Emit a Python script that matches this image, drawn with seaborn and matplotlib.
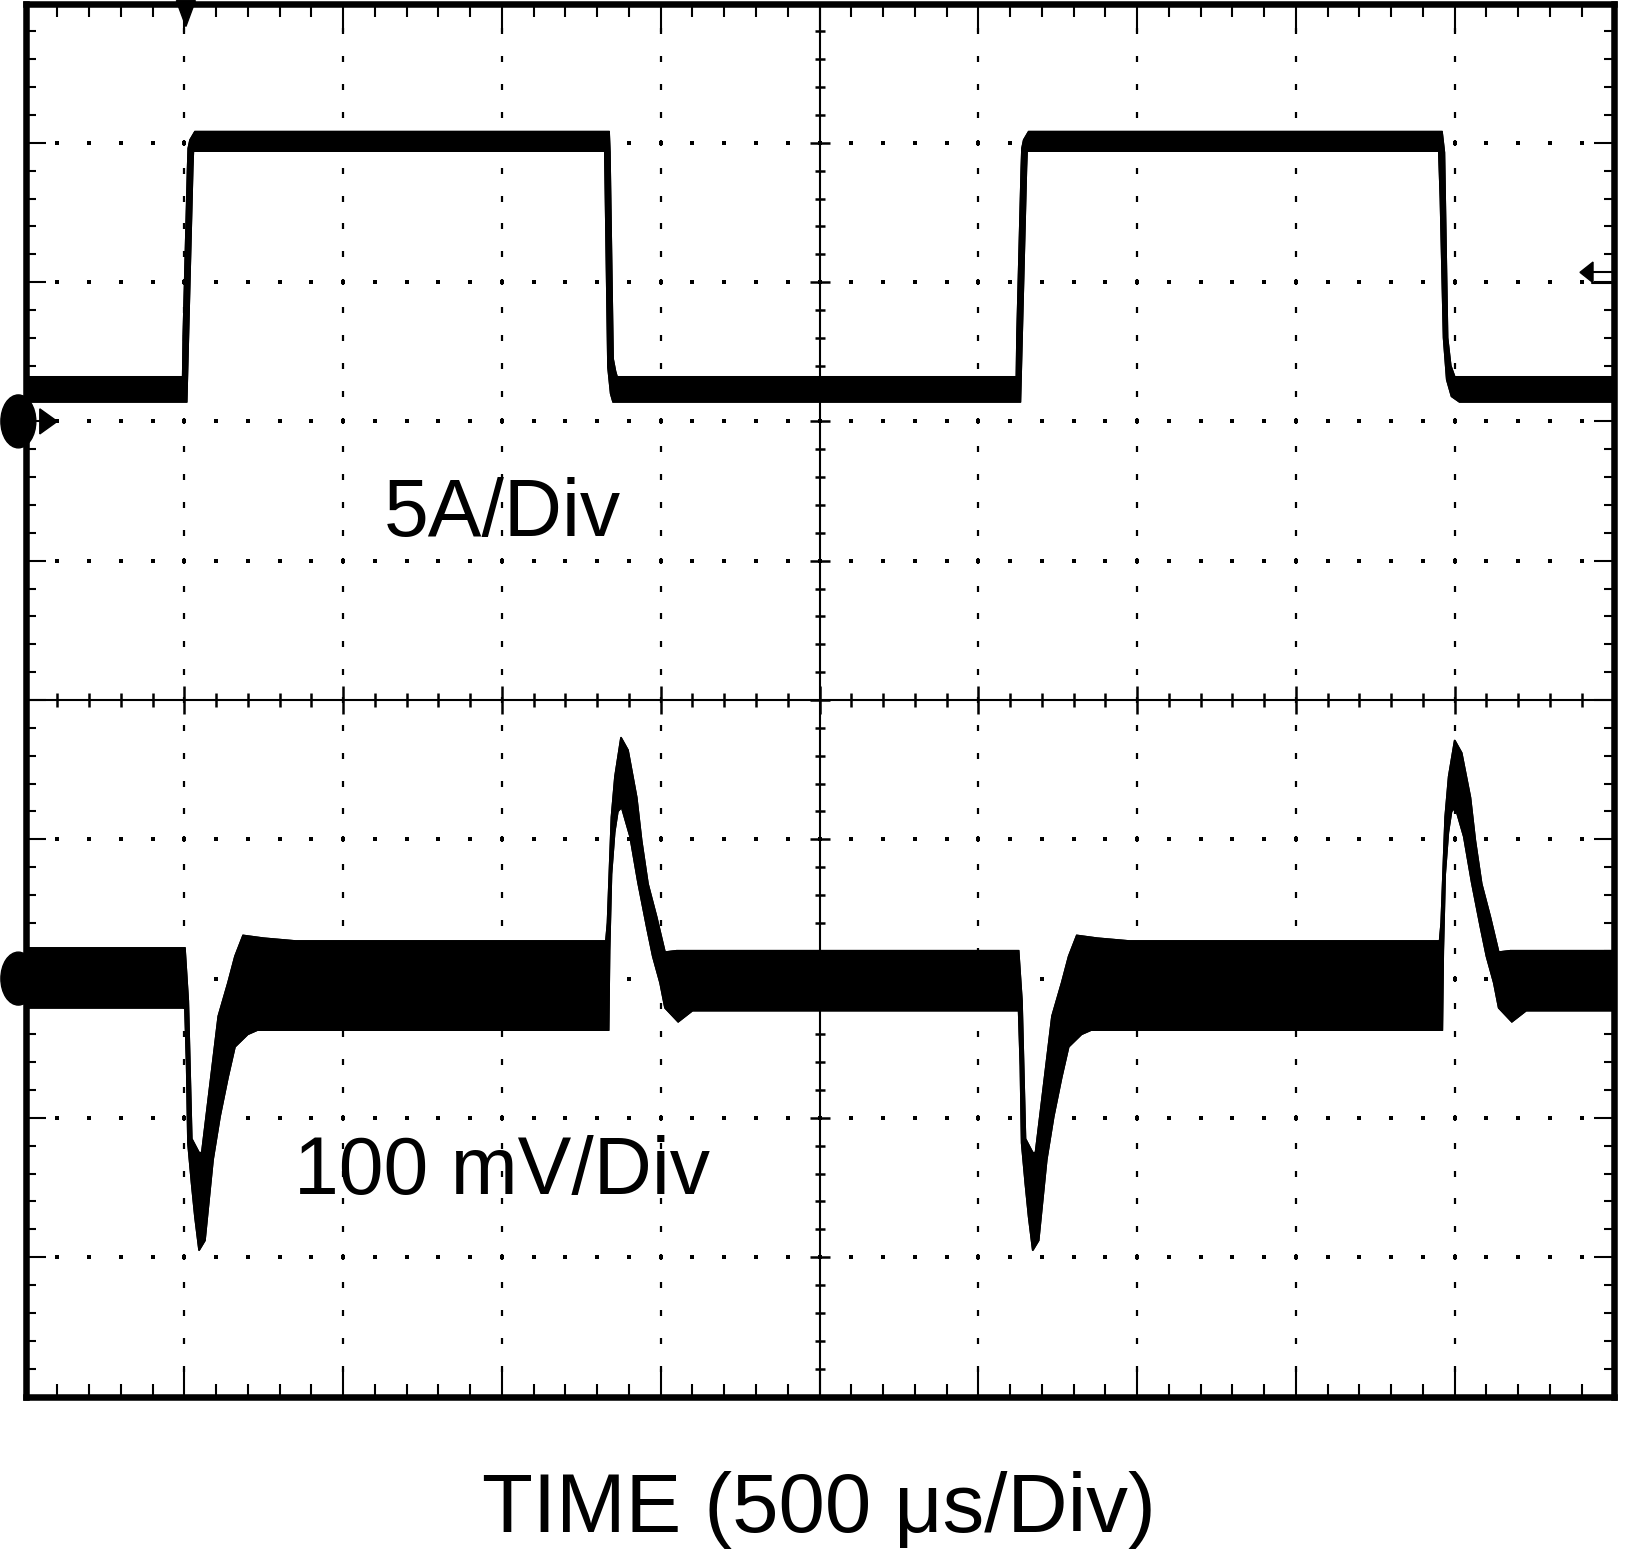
import numpy as np
import matplotlib
matplotlib.use('Agg')
import matplotlib.pyplot as plt
from matplotlib.patches import Ellipse, Polygon
from matplotlib.ticker import MultipleLocator
import seaborn as sns

# Pantalla de osciloscopio: 10 x 10 divisiones, unidades en divisiones
# Canal 1 (corriente, 5 A/div) - envolvente superior / inferior de la traza
cur_up_t = [0.0, 0.990, 0.994, 1.021, 1.025, 1.036, 1.067, 3.675, 3.680, 3.700, 3.715, 3.725,
            6.240, 6.244, 6.271, 6.275, 6.286, 6.317, 8.920, 8.935, 8.955, 8.975, 9.000, 10.0]
cur_up_y = [7.32, 7.32, 7.63, 8.82, 8.96, 9.02, 9.08, 9.08, 8.93, 7.45, 7.36, 7.32,
            7.32, 7.63, 8.82, 8.96, 9.02, 9.08, 9.08, 8.93, 7.60, 7.40, 7.32, 7.32]
cur_lo_t = [0.0, 1.015, 1.053, 1.057, 3.648, 3.650, 3.668, 3.685, 3.700,
            6.265, 6.303, 6.307, 8.900, 8.910, 8.930, 8.950, 8.980, 9.030, 10.0]
cur_lo_y = [7.14, 7.14, 8.82, 8.94, 8.94, 8.80, 7.39, 7.20, 7.14,
            7.14, 8.82, 8.94, 8.94, 8.60, 7.60, 7.30, 7.18, 7.14, 7.14]

# Canal 2 (tensión de salida, 100 mV/div)
vout_up_t = [0.0, 1.004, 1.025, 1.047, 1.093, 1.110, 1.214, 1.275, 1.319, 1.370, 1.500, 1.700,
             3.655, 3.665, 3.690, 3.712, 3.750, 3.794, 3.849, 3.880, 3.920, 3.975, 4.027, 4.100,
             6.254, 6.275, 6.297, 6.343, 6.360, 6.464, 6.525, 6.569, 6.620, 6.750, 6.950,
             8.905, 8.915, 8.940, 8.962, 9.000, 9.044, 9.099, 9.130, 9.170, 9.225, 9.277, 9.350, 10.0]
vout_up_y = [3.22, 3.22, 2.84, 1.85, 1.75, 1.75, 2.73, 2.97, 3.16, 3.31, 3.29, 3.27,
             3.27, 3.40, 4.16, 4.45, 4.73, 4.64, 4.30, 3.99, 3.68, 3.44, 3.19, 3.20,
             3.20, 2.84, 1.85, 1.75, 1.75, 2.73, 2.97, 3.16, 3.31, 3.29, 3.27,
             3.27, 3.40, 4.16, 4.45, 4.71, 4.62, 4.30, 3.99, 3.68, 3.44, 3.19, 3.20, 3.20]
vout_lo_t = [0.0, 1.004, 1.015, 1.023, 1.046, 1.067, 1.093, 1.130, 1.181, 1.225, 1.275, 1.319, 1.400, 1.460,
             3.660, 3.672, 3.678, 3.690, 3.710, 3.730, 3.754, 3.807, 3.857, 3.912, 3.950, 3.996, 4.027, 4.110, 4.200,
             6.254, 6.265, 6.273, 6.296, 6.317, 6.343, 6.380, 6.431, 6.475, 6.525, 6.569, 6.650, 6.710,
             8.910, 8.922, 8.928, 8.940, 8.960, 8.980, 9.004, 9.057, 9.107, 9.162, 9.200, 9.246, 9.277, 9.360, 9.450, 10.0]
vout_lo_y = [2.79, 2.79, 2.37, 1.82, 1.53, 1.29, 1.05, 1.12, 1.70, 2.01, 2.29, 2.51, 2.60, 2.63,
             2.63, 2.63, 3.20, 3.75, 4.05, 4.20, 4.23, 4.02, 3.69, 3.37, 3.16, 2.97, 2.79, 2.69, 2.77,
             2.77, 2.37, 1.82, 1.53, 1.29, 1.05, 1.12, 1.70, 2.01, 2.29, 2.51, 2.60, 2.63,
             2.63, 2.63, 3.20, 3.75, 4.05, 4.20, 4.23, 4.02, 3.69, 3.37, 3.16, 2.97, 2.79, 2.69, 2.77, 2.77]

# Marcadores del osciloscopio
ch_ground = [7.0, 3.0]      # referencia de cada canal (div)
trig_time = 1.01            # posición del disparo (div)
trig_level = 8.07           # nivel de disparo (div)

labels = ['5A/Div', '100 mV/Div']
label_pos = [(3.0, 6.177), (3.0, 1.454)]
xlabel = 'TIME (500 \u03bcs/Div)'

W, H = 1625, 1552
sns.set_theme(style='white')
plt.rcParams['font.family'] = ['Liberation Sans', 'DejaVu Sans']

fig = plt.figure(figsize=(W / 100, H / 100), dpi=100)
ax = fig.add_axes([25.5 / W, 155.5 / H, 1588 / W, 1393 / H])
ax.set_xlim(0, 10)
ax.set_ylim(0, 10)
ax.set_facecolor('white')

# Marco y marcas de división
for s in ax.spines.values():
    s.set_visible(True)
    s.set_color('black')
    s.set_linewidth(4.7)
ax.xaxis.set_major_locator(MultipleLocator(1))
ax.xaxis.set_minor_locator(MultipleLocator(0.2))
ax.yaxis.set_major_locator(MultipleLocator(1))
ax.yaxis.set_minor_locator(MultipleLocator(0.2))
ax.tick_params(which='both', direction='in', top=True, right=True, bottom=True, left=True,
               labelbottom=False, labelleft=False, color='black', width=1.5)
ax.tick_params(axis='x', which='major', length=20)
ax.tick_params(axis='x', which='minor', length=9.4)
ax.tick_params(axis='y', which='major', length=14.4)
ax.tick_params(axis='y', which='minor', length=7.2)

# Retícula punteada
fine = np.arange(1, 50) * 0.2
for g in [1, 2, 3, 4, 6, 7, 8, 9]:
    ax.plot(np.full_like(fine, g), fine, ls='none', marker='|', ms=3.8, mew=1.6, color='black', zorder=1)
    ax.plot(fine, np.full_like(fine, g), ls='none', marker='s', ms=2.2, mew=0, color='black', zorder=1)

# Ejes centrales con marcas
ax.axhline(5, color='black', lw=1.5, zorder=2)
ax.axvline(5, color='black', lw=1.5, zorder=2)
major = np.isclose(fine % 1, 0) | np.isclose(fine % 1, 1)
ax.plot(fine[~major], np.full((~major).sum(), 5.0), ls='none', marker='|', ms=10, mew=1.8, color='black', zorder=2)
ax.plot(fine[major], np.full(major.sum(), 5.0), ls='none', marker='|', ms=20, mew=1.8, color='black', zorder=2)
ax.plot(np.full((~major).sum(), 5.0), fine[~major], ls='none', marker='_', ms=7.2, mew=1.8, color='black', zorder=2)
ax.plot(np.full(major.sum(), 5.0), fine[major], ls='none', marker='_', ms=14.4, mew=1.8, color='black', zorder=2)

# Trazas (banda de ruido como envolvente rellena)
for up_t, up_y, lo_t, lo_y in [(cur_up_t, cur_up_y, cur_lo_t, cur_lo_y),
                               (vout_up_t, vout_up_y, vout_lo_t, vout_lo_y)]:
    xs = np.concatenate([up_t, lo_t[::-1]])
    ys = np.concatenate([up_y, lo_y[::-1]])
    ax.fill(xs, ys, color='black', lw=1.2, zorder=3)
    sns.lineplot(x=up_t, y=up_y, sort=False, estimator=None, color='black', lw=1.2, ax=ax, zorder=3)
    sns.lineplot(x=lo_t, y=lo_y, sort=False, estimator=None, color='black', lw=1.2, ax=ax, zorder=3)

# Marcadores de canal, disparo y nivel
for g in ch_ground:
    ax.add_patch(Ellipse((-0.045, g), 0.22, 0.38, color='black', clip_on=False, zorder=5))
    ax.add_patch(Polygon([(0.09, g + 0.09), (0.09, g - 0.09), (0.20, g)], closed=True,
                         color='black', clip_on=False, zorder=5))
ax.add_patch(Polygon([(trig_time - 0.06, 10.02), (trig_time + 0.06, 10.02), (trig_time, 9.835)],
                     closed=True, color='black', clip_on=False, zorder=5))
ax.add_patch(Polygon([(9.789, trig_level), (9.871, trig_level + 0.074), (9.871, trig_level - 0.074)],
                     closed=True, color='black', zorder=5))
ax.plot([9.865, 10.0], [trig_level + 0.004, trig_level + 0.004], color='black', lw=1.5, zorder=5)
ax.plot([9.865, 10.0], [trig_level - 0.075, trig_level - 0.075], color='black', lw=1.5, zorder=5)

for txt, (x, y) in zip(labels, label_pos):
    ax.text(x, y, txt, ha='center', va='baseline', fontsize=58, color='black', zorder=6)

fig.text(0.504, 0.0129, xlabel, ha='center', va='baseline', fontsize=60, color='black')

fig.savefig('out.png', dpi=100, facecolor='white')
